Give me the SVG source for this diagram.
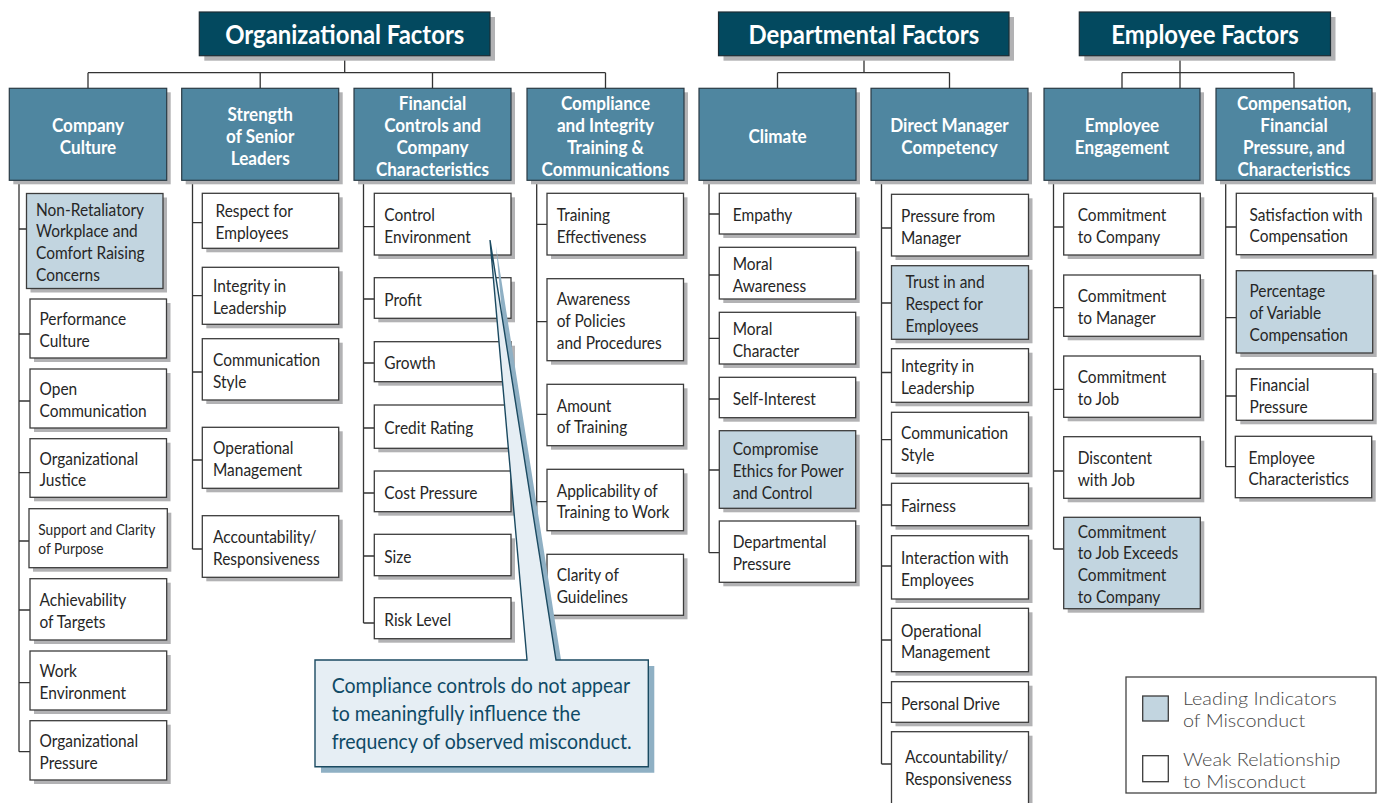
<svg xmlns="http://www.w3.org/2000/svg" width="1379" height="803" viewBox="0 0 1379 803">
  <style>
    .sh { fill: #b2b2b4; }
    .hdr { fill: #03495f; stroke: #1d2d35; stroke-width: 1.2; }
    .sub { fill: #4f86a0; stroke: #2a3a44; stroke-width: 1.2; }
    .item { fill: #ffffff; stroke: #3c3c3c; stroke-width: 1.3; }
    .lead { fill: #c2d5e0; stroke: #3c3c3c; stroke-width: 1.3; }
    .ht { font-family: Lato, "Open Sans", sans-serif; font-weight: 700; font-size: 26px; fill: #ffffff; text-anchor: middle; }
    .st { font-family: Lato, "Open Sans", sans-serif; font-weight: 700; font-size: 19px; fill: #ffffff; text-anchor: middle; }
    .it { font-family: Lato, "Open Sans", sans-serif; font-size: 18px; fill: #262626; }
    .its { font-family: Lato, "Open Sans", sans-serif; font-size: 16px; fill: #262626; }
    .ct { font-family: Lato, "Open Sans", sans-serif; font-size: 21px; fill: #0f4a66; }
    .lt { font-family: Lato, "Open Sans", sans-serif; font-weight: 300; font-size: 18px; fill: #474747; }
    .conn { fill: none; stroke: #333333; stroke-width: 1.3; }
  </style>

  <!-- tree connectors -->
  <g id="connectors" class="conn">
    <!-- Organizational Factors -->
    <path d="M344.7 55.7 V72.7 M88 72.7 H605.5 M88 72.7 V88.3 M260.2 72.7 V88.3 M432.5 72.7 V88.3 M605.5 72.7 V88.3"/>
    <!-- Departmental Factors -->
    <path d="M864 55.7 V72.7 M777.5 72.7 H949.5 M777.5 72.7 V88.3 M949.5 72.7 V88.3"/>
    <!-- Employee Factors -->
    <path d="M1180 55.7 V88.3 M1122 72.7 H1294 M1122 72.7 V88.3 M1294 72.7 V88.3"/>
    <!-- column spines and ticks -->
    <path d="M19 180.3 V751.7 M19 229 H26.5 M19 334 H30 M19 401 H30 M19 472.7 H30 M19 541 H29 M19 610 H30 M19 682.7 H30 M19 751.7 H30"/>
    <path d="M192.5 180.3 V549 M192.5 222.7 H202.3 M192.5 295.7 H202.3 M192.5 372 H202.3 M192.5 460 H202.3 M192.5 549 H202.3"/>
    <path d="M363.5 180.3 V623 M363.5 226.7 H374.3 M363.5 299 H374.3 M363.5 363 H374.3 M363.5 428 H374.3 M363.5 493 H374.3 M363.5 556 H374.3 M363.5 623 H374.3"/>
    <path d="M536.7 180.3 V585 M536.7 224.3 H547 M536.7 321.7 H547 M536.7 414.3 H547 M536.7 501.7 H547 M536.7 585 H547"/>
    <path d="M709 180.3 V552.7 M709 214 H719.3 M709 275 H719.3 M709 338.3 H719.3 M709 399 H719.3 M709 470 H719.3 M709 552.7 H719.3"/>
    <path d="M881.5 180.3 V764 M881.5 228 H891.5 M881.5 303 H891.5 M881.5 372.5 H891.5 M881.5 439.7 H891.5 M881.5 505 H891.5 M881.5 566 H891.5 M881.5 640 H891.5 M881.5 702.7 H891.5 M881.5 764 H891.5"/>
    <path d="M1053.5 180.3 V549 M1053.5 227 H1063.7 M1053.5 307.7 H1063.7 M1053.5 389.3 H1063.7 M1053.5 471 H1063.7 M1053.5 549 H1063.7"/>
    <path d="M1225.7 180.3 V466.7 M1225.7 227 H1236.3 M1225.7 317.7 H1236.3 M1225.7 396 H1236.3 M1225.7 466.7 H1235.3"/>
  </g>

  <!-- top-level factor headers -->
  <g id="organizational-factors">
    <rect class="sh" x="204.3" y="17" width="290.7" height="43.7"/>
    <rect class="hdr" x="199.3" y="12" width="290.7" height="43.7"/>
    <text class="ht" transform="translate(344.7 44) scale(.92 1)">Organizational Factors</text>
  </g>
  <g id="departmental-factors">
    <rect class="sh" x="723.5" y="17" width="290.5" height="43.7"/>
    <rect class="hdr" x="718.5" y="12" width="290.5" height="43.7"/>
    <text class="ht" transform="translate(863.8 44) scale(.92 1)">Departmental Factors</text>
  </g>
  <g id="employee-factors">
    <rect class="sh" x="1084.3" y="17" width="251.2" height="43.7"/>
    <rect class="hdr" x="1079.3" y="12" width="251.2" height="43.7"/>
    <text class="ht" transform="translate(1205 44) scale(.92 1)">Employee Factors</text>
  </g>

  <!-- category boxes -->
  <g id="company-culture">
    <rect class="sh" x="13.3" y="92.3" width="157.4" height="92"/>
    <rect class="sub" x="9.3" y="88.3" width="157.4" height="92"/>
    <text class="st" transform="translate(88 131.8) scale(.9 1)"><tspan x="0" y="0">Company</tspan><tspan x="0" y="22">Culture</tspan></text>
  </g>
  <g id="strength-of-senior-leaders">
    <rect class="sh" x="185.7" y="92.3" width="157" height="92"/>
    <rect class="sub" x="181.7" y="88.3" width="157" height="92"/>
    <text class="st" transform="translate(260.2 120.8) scale(.9 1)"><tspan x="0" y="0">Strength</tspan><tspan x="0" y="22">of Senior</tspan><tspan x="0" y="44">Leaders</tspan></text>
  </g>
  <g id="financial-controls">
    <rect class="sh" x="358" y="92.3" width="157" height="92"/>
    <rect class="sub" x="354" y="88.3" width="157" height="92"/>
    <text class="st" transform="translate(432.5 109.8) scale(.9 1)"><tspan x="0" y="0">Financial</tspan><tspan x="0" y="22">Controls and</tspan><tspan x="0" y="44">Company</tspan><tspan x="0" y="66">Characteristics</tspan></text>
  </g>
  <g id="compliance-training">
    <rect class="sh" x="531" y="92.3" width="157" height="92"/>
    <rect class="sub" x="527" y="88.3" width="157" height="92"/>
    <text class="st" transform="translate(605.5 109.8) scale(.9 1)"><tspan x="0" y="0">Compliance</tspan><tspan x="0" y="22">and Integrity</tspan><tspan x="0" y="44">Training &amp;</tspan><tspan x="0" y="66">Communications</tspan></text>
  </g>
  <g id="climate">
    <rect class="sh" x="703" y="92.3" width="157" height="92"/>
    <rect class="sub" x="699" y="88.3" width="157" height="92"/>
    <text class="st" transform="translate(777.5 142.8) scale(.9 1)">Climate</text>
  </g>
  <g id="direct-manager-competency">
    <rect class="sh" x="875" y="92.3" width="157" height="92"/>
    <rect class="sub" x="871" y="88.3" width="157" height="92"/>
    <text class="st" transform="translate(949.5 131.8) scale(.9 1)"><tspan x="0" y="0">Direct Manager</tspan><tspan x="0" y="22">Competency</tspan></text>
  </g>
  <g id="employee-engagement">
    <rect class="sh" x="1048" y="92.3" width="156" height="92"/>
    <rect class="sub" x="1044" y="88.3" width="156" height="92"/>
    <text class="st" transform="translate(1122 131.8) scale(.9 1)"><tspan x="0" y="0">Employee</tspan><tspan x="0" y="22">Engagement</tspan></text>
  </g>
  <g id="compensation">
    <rect class="sh" x="1220" y="92.3" width="156" height="92"/>
    <rect class="sub" x="1216" y="88.3" width="156" height="92"/>
    <text class="st" transform="translate(1294 109.8) scale(.9 1)"><tspan x="0" y="0">Compensation,</tspan><tspan x="0" y="22">Financial</tspan><tspan x="0" y="44">Pressure, and</tspan><tspan x="0" y="66">Characteristics</tspan></text>
  </g>

  <!-- Company Culture items -->
  <g id="cc-non-retaliatory">
    <rect class="sh" x="30.5" y="197.5" width="136.5" height="95"/>
    <rect class="lead" x="26.5" y="193.5" width="136.5" height="95"/>
    <text class="it" transform="translate(36 215.5) scale(.86 1)"><tspan x="0" y="0">Non-Retaliatory</tspan><tspan x="0" y="22">Workplace and</tspan><tspan x="0" y="44">Comfort Raising</tspan><tspan x="0" y="66">Concerns</tspan></text>
  </g>
  <g id="cc-performance-culture">
    <rect class="sh" x="34" y="303" width="136.5" height="59"/>
    <rect class="item" x="30" y="299" width="136.5" height="59"/>
    <text class="it" transform="translate(39.5 325) scale(.86 1)"><tspan x="0" y="0">Performance</tspan><tspan x="0" y="22">Culture</tspan></text>
  </g>
  <g id="cc-open-communication">
    <rect class="sh" x="34" y="373" width="136.5" height="59"/>
    <rect class="item" x="30" y="369" width="136.5" height="59"/>
    <text class="it" transform="translate(39.5 395) scale(.86 1)"><tspan x="0" y="0">Open</tspan><tspan x="0" y="22">Communication</tspan></text>
  </g>
  <g id="cc-organizational-justice">
    <rect class="sh" x="34" y="442.7" width="136.5" height="58.6"/>
    <rect class="item" x="30" y="438.7" width="136.5" height="58.6"/>
    <text class="it" transform="translate(39.5 464.5) scale(.86 1)"><tspan x="0" y="0">Organizational</tspan><tspan x="0" y="22">Justice</tspan></text>
  </g>
  <g id="cc-support-clarity">
    <rect class="sh" x="33" y="512.7" width="138.3" height="59"/>
    <rect class="item" x="29" y="508.7" width="138.3" height="59"/>
    <text class="its" transform="translate(38.3 535) scale(.86 1)"><tspan x="0" y="0">Support and Clarity</tspan><tspan x="0" y="19">of Purpose</tspan></text>
  </g>
  <g id="cc-achievability">
    <rect class="sh" x="34" y="582.7" width="136.7" height="61.3"/>
    <rect class="item" x="30" y="578.7" width="136.7" height="61.3"/>
    <text class="it" transform="translate(39.5 605.8) scale(.86 1)"><tspan x="0" y="0">Achievability</tspan><tspan x="0" y="22">of Targets</tspan></text>
  </g>
  <g id="cc-work-environment">
    <rect class="sh" x="34" y="655" width="136.7" height="59"/>
    <rect class="item" x="30" y="651" width="136.7" height="59"/>
    <text class="it" transform="translate(39.5 677) scale(.86 1)"><tspan x="0" y="0">Work</tspan><tspan x="0" y="22">Environment</tspan></text>
  </g>
  <g id="cc-organizational-pressure">
    <rect class="sh" x="34" y="724.7" width="136.7" height="59.3"/>
    <rect class="item" x="30" y="720.7" width="136.7" height="59.3"/>
    <text class="it" transform="translate(39.5 746.8) scale(.86 1)"><tspan x="0" y="0">Organizational</tspan><tspan x="0" y="22">Pressure</tspan></text>
  </g>

  <!-- Strength of Senior Leaders items -->
  <g id="sl-respect">
    <rect class="sh" x="206.3" y="197.3" width="136.4" height="55"/>
    <rect class="item" x="202.3" y="193.3" width="136.4" height="55"/>
    <text class="it" transform="translate(215.5 217.3) scale(.86 1)"><tspan x="0" y="0">Respect for</tspan><tspan x="0" y="22">Employees</tspan></text>
  </g>
  <g id="sl-integrity">
    <rect class="sh" x="206.3" y="271.3" width="136.4" height="57"/>
    <rect class="item" x="202.3" y="267.3" width="136.4" height="57"/>
    <text class="it" transform="translate(213 292.3) scale(.86 1)"><tspan x="0" y="0">Integrity in</tspan><tspan x="0" y="22">Leadership</tspan></text>
  </g>
  <g id="sl-communication-style">
    <rect class="sh" x="206.3" y="342.7" width="136.4" height="61.3"/>
    <rect class="item" x="202.3" y="338.7" width="136.4" height="61.3"/>
    <text class="it" transform="translate(213 365.8) scale(.86 1)"><tspan x="0" y="0">Communication</tspan><tspan x="0" y="22">Style</tspan></text>
  </g>
  <g id="sl-operational-management">
    <rect class="sh" x="206.3" y="431.3" width="136.4" height="61"/>
    <rect class="item" x="202.3" y="427.3" width="136.4" height="61"/>
    <text class="it" transform="translate(213 454.3) scale(.86 1)"><tspan x="0" y="0">Operational</tspan><tspan x="0" y="22">Management</tspan></text>
  </g>
  <g id="sl-accountability">
    <rect class="sh" x="206.3" y="519.7" width="136.4" height="61.6"/>
    <rect class="item" x="202.3" y="515.7" width="136.4" height="61.6"/>
    <text class="it" transform="translate(213 543) scale(.86 1)"><tspan x="0" y="0">Accountability/</tspan><tspan x="0" y="22">Responsiveness</tspan></text>
  </g>

  <!-- Financial Controls and Company Characteristics items -->
  <g id="fc-control-environment">
    <rect class="sh" x="378.3" y="197.3" width="136.7" height="61.7"/>
    <rect class="item" x="374.3" y="193.3" width="136.7" height="61.7"/>
    <text class="it" transform="translate(384.3 220.7) scale(.86 1)"><tspan x="0" y="0">Control</tspan><tspan x="0" y="22">Environment</tspan></text>
  </g>
  <g id="fc-profit">
    <rect class="sh" x="378.3" y="281.7" width="136.7" height="40.6"/>
    <rect class="item" x="374.3" y="277.7" width="136.7" height="40.6"/>
    <text class="it" transform="translate(384.3 305.5) scale(.86 1)">Profit</text>
  </g>
  <g id="fc-growth">
    <rect class="sh" x="378.3" y="345.7" width="136.7" height="40"/>
    <rect class="item" x="374.3" y="341.7" width="136.7" height="40"/>
    <text class="it" transform="translate(384.3 369.2) scale(.86 1)">Growth</text>
  </g>
  <g id="fc-credit-rating">
    <rect class="sh" x="378.3" y="409" width="136.7" height="43.3"/>
    <rect class="item" x="374.3" y="405" width="136.7" height="43.3"/>
    <text class="it" transform="translate(384.3 434.2) scale(.86 1)">Credit Rating</text>
  </g>
  <g id="fc-cost-pressure">
    <rect class="sh" x="378.3" y="475" width="136.7" height="40.7"/>
    <rect class="item" x="374.3" y="471" width="136.7" height="40.7"/>
    <text class="it" transform="translate(384.3 498.8) scale(.86 1)">Cost Pressure</text>
  </g>
  <g id="fc-size">
    <rect class="sh" x="378.3" y="538.3" width="136.7" height="41.4"/>
    <rect class="item" x="374.3" y="534.3" width="136.7" height="41.4"/>
    <text class="it" transform="translate(384.3 562.5) scale(.86 1)">Size</text>
  </g>
  <g id="fc-risk-level">
    <rect class="sh" x="378.3" y="601.7" width="136.7" height="41"/>
    <rect class="item" x="374.3" y="597.7" width="136.7" height="41"/>
    <text class="it" transform="translate(384.3 625.7) scale(.86 1)">Risk Level</text>
  </g>

  <!-- Compliance and Integrity Training items -->
  <g id="ct-training-effectiveness">
    <rect class="sh" x="551" y="197.3" width="136.5" height="61.7"/>
    <rect class="item" x="547" y="193.3" width="136.5" height="61.7"/>
    <text class="it" transform="translate(556.7 220.7) scale(.86 1)"><tspan x="0" y="0">Training</tspan><tspan x="0" y="22">Effectiveness</tspan></text>
  </g>
  <g id="ct-awareness">
    <rect class="sh" x="551" y="282.7" width="136.5" height="82"/>
    <rect class="item" x="547" y="278.7" width="136.5" height="82"/>
    <text class="it" transform="translate(556.7 305.2) scale(.86 1)"><tspan x="0" y="0">Awareness</tspan><tspan x="0" y="22">of Policies</tspan><tspan x="0" y="44">and Procedures</tspan></text>
  </g>
  <g id="ct-amount">
    <rect class="sh" x="551" y="388.3" width="136.5" height="61.4"/>
    <rect class="item" x="547" y="384.3" width="136.5" height="61.4"/>
    <text class="it" transform="translate(556.7 411.5) scale(.86 1)"><tspan x="0" y="0">Amount</tspan><tspan x="0" y="22">of Training</tspan></text>
  </g>
  <g id="ct-applicability">
    <rect class="sh" x="551" y="473.3" width="136.5" height="61.4"/>
    <rect class="item" x="547" y="469.3" width="136.5" height="61.4"/>
    <text class="it" transform="translate(556.7 496.5) scale(.86 1)"><tspan x="0" y="0">Applicability of</tspan><tspan x="0" y="22">Training to Work</tspan></text>
  </g>
  <g id="ct-clarity">
    <rect class="sh" x="551" y="558.3" width="136.5" height="61"/>
    <rect class="item" x="547" y="554.3" width="136.5" height="61"/>
    <text class="it" transform="translate(556.7 581.3) scale(.86 1)"><tspan x="0" y="0">Clarity of</tspan><tspan x="0" y="22">Guidelines</tspan></text>
  </g>

  <!-- Climate items -->
  <g id="cl-empathy">
    <rect class="sh" x="723.3" y="197.3" width="136.4" height="40.7"/>
    <rect class="item" x="719.3" y="193.3" width="136.4" height="40.7"/>
    <text class="it" transform="translate(732.7 221.2) scale(.86 1)">Empathy</text>
  </g>
  <g id="cl-moral-awareness">
    <rect class="sh" x="723.3" y="251.3" width="136.4" height="51.7"/>
    <rect class="item" x="719.3" y="247.3" width="136.4" height="51.7"/>
    <text class="it" transform="translate(732.7 269.7) scale(.86 1)"><tspan x="0" y="0">Moral</tspan><tspan x="0" y="22">Awareness</tspan></text>
  </g>
  <g id="cl-moral-character">
    <rect class="sh" x="723.3" y="316.3" width="136.4" height="51.7"/>
    <rect class="item" x="719.3" y="312.3" width="136.4" height="51.7"/>
    <text class="it" transform="translate(732.7 334.7) scale(.86 1)"><tspan x="0" y="0">Moral</tspan><tspan x="0" y="22">Character</tspan></text>
  </g>
  <g id="cl-self-interest">
    <rect class="sh" x="723.3" y="381.3" width="136.4" height="40.4"/>
    <rect class="item" x="719.3" y="377.3" width="136.4" height="40.4"/>
    <text class="it" transform="translate(732.7 405) scale(.86 1)">Self-Interest</text>
  </g>
  <g id="cl-compromise-ethics">
    <rect class="sh" x="723.3" y="434.7" width="136.4" height="77.6"/>
    <rect class="lead" x="719.3" y="430.7" width="136.4" height="77.6"/>
    <text class="it" transform="translate(732.7 455) scale(.86 1)"><tspan x="0" y="0">Compromise</tspan><tspan x="0" y="22">Ethics for Power</tspan><tspan x="0" y="44">and Control</tspan></text>
  </g>
  <g id="cl-departmental-pressure">
    <rect class="sh" x="723.3" y="525" width="136.4" height="61.3"/>
    <rect class="item" x="719.3" y="521" width="136.4" height="61.3"/>
    <text class="it" transform="translate(732.7 548.2) scale(.86 1)"><tspan x="0" y="0">Departmental</tspan><tspan x="0" y="22">Pressure</tspan></text>
  </g>

  <!-- Direct Manager Competency items -->
  <g id="dm-pressure">
    <rect class="sh" x="895.5" y="198.3" width="137" height="61.7"/>
    <rect class="item" x="891.5" y="194.3" width="137" height="61.7"/>
    <text class="it" transform="translate(901 221.7) scale(.86 1)"><tspan x="0" y="0">Pressure from</tspan><tspan x="0" y="22">Manager</tspan></text>
  </g>
  <g id="dm-trust-respect">
    <rect class="sh" x="895.5" y="269.7" width="137" height="73.6"/>
    <rect class="lead" x="891.5" y="265.7" width="137" height="73.6"/>
    <text class="it" transform="translate(905.5 288) scale(.86 1)"><tspan x="0" y="0">Trust in and</tspan><tspan x="0" y="22">Respect for</tspan><tspan x="0" y="44">Employees</tspan></text>
  </g>
  <g id="dm-integrity">
    <rect class="sh" x="895.5" y="352.7" width="137" height="53.6"/>
    <rect class="item" x="891.5" y="348.7" width="137" height="53.6"/>
    <text class="it" transform="translate(901 372) scale(.86 1)"><tspan x="0" y="0">Integrity in</tspan><tspan x="0" y="22">Leadership</tspan></text>
  </g>
  <g id="dm-communication-style">
    <rect class="sh" x="895.5" y="416.3" width="137" height="61"/>
    <rect class="item" x="891.5" y="412.3" width="137" height="61"/>
    <text class="it" transform="translate(901 439.3) scale(.86 1)"><tspan x="0" y="0">Communication</tspan><tspan x="0" y="22">Style</tspan></text>
  </g>
  <g id="dm-fairness">
    <rect class="sh" x="895.5" y="487.3" width="137" height="42.4"/>
    <rect class="item" x="891.5" y="483.3" width="137" height="42.4"/>
    <text class="it" transform="translate(901 512) scale(.86 1)">Fairness</text>
  </g>
  <g id="dm-interaction">
    <rect class="sh" x="895.5" y="539.7" width="137" height="63.3"/>
    <rect class="item" x="891.5" y="535.7" width="137" height="63.3"/>
    <text class="it" transform="translate(901 563.8) scale(.86 1)"><tspan x="0" y="0">Interaction with</tspan><tspan x="0" y="22">Employees</tspan></text>
  </g>
  <g id="dm-operational-management">
    <rect class="sh" x="895.5" y="612.3" width="137" height="63.4"/>
    <rect class="item" x="891.5" y="608.3" width="137" height="63.4"/>
    <text class="it" transform="translate(901 636.5) scale(.86 1)"><tspan x="0" y="0">Operational</tspan><tspan x="0" y="22">Management</tspan></text>
  </g>
  <g id="dm-personal-drive">
    <rect class="sh" x="895.5" y="685.7" width="137" height="40.6"/>
    <rect class="item" x="891.5" y="681.7" width="137" height="40.6"/>
    <text class="it" transform="translate(901 709.5) scale(.86 1)">Personal Drive</text>
  </g>
  <g id="dm-accountability">
    <rect class="sh" x="895.5" y="735.7" width="137" height="80"/>
    <rect class="item" x="891.5" y="731.7" width="137" height="80"/>
    <text class="it" transform="translate(905 763) scale(.86 1)"><tspan x="0" y="0">Accountability/</tspan><tspan x="0" y="22">Responsiveness</tspan></text>
  </g>

  <!-- Employee Engagement items -->
  <g id="ee-commitment-company">
    <rect class="sh" x="1067.7" y="197.3" width="136.6" height="61.7"/>
    <rect class="item" x="1063.7" y="193.3" width="136.6" height="61.7"/>
    <text class="it" transform="translate(1077.7 220.7) scale(.86 1)"><tspan x="0" y="0">Commitment</tspan><tspan x="0" y="22">to Company</tspan></text>
  </g>
  <g id="ee-commitment-manager">
    <rect class="sh" x="1067.7" y="279" width="136.6" height="61.3"/>
    <rect class="item" x="1063.7" y="275" width="136.6" height="61.3"/>
    <text class="it" transform="translate(1077.7 302.2) scale(.86 1)"><tspan x="0" y="0">Commitment</tspan><tspan x="0" y="22">to Manager</tspan></text>
  </g>
  <g id="ee-commitment-job">
    <rect class="sh" x="1067.7" y="360" width="136.6" height="61.3"/>
    <rect class="item" x="1063.7" y="356" width="136.6" height="61.3"/>
    <text class="it" transform="translate(1077.7 383.2) scale(.86 1)"><tspan x="0" y="0">Commitment</tspan><tspan x="0" y="22">to Job</tspan></text>
  </g>
  <g id="ee-discontent">
    <rect class="sh" x="1067.7" y="440.7" width="136.6" height="61.6"/>
    <rect class="item" x="1063.7" y="436.7" width="136.6" height="61.6"/>
    <text class="it" transform="translate(1077.7 464) scale(.86 1)"><tspan x="0" y="0">Discontent</tspan><tspan x="0" y="22">with Job</tspan></text>
  </g>
  <g id="ee-job-exceeds-company">
    <rect class="sh" x="1067.7" y="521.3" width="136.6" height="91.4"/>
    <rect class="lead" x="1063.7" y="517.3" width="136.6" height="91.4"/>
    <text class="it" transform="translate(1077.7 537.5) scale(.86 1)"><tspan x="0" y="0">Commitment</tspan><tspan x="0" y="22">to Job Exceeds</tspan><tspan x="0" y="44">Commitment</tspan><tspan x="0" y="66">to Company</tspan></text>
  </g>

  <!-- Compensation, Financial Pressure, and Characteristics items -->
  <g id="cp-satisfaction">
    <rect class="sh" x="1240.3" y="197.3" width="136.4" height="61.4"/>
    <rect class="item" x="1236.3" y="193.3" width="136.4" height="61.4"/>
    <text class="it" transform="translate(1249.5 220.5) scale(.86 1)"><tspan x="0" y="0">Satisfaction with</tspan><tspan x="0" y="22">Compensation</tspan></text>
  </g>
  <g id="cp-variable-compensation">
    <rect class="sh" x="1240.3" y="274.7" width="136.4" height="82.3"/>
    <rect class="lead" x="1236.3" y="270.7" width="136.4" height="82.3"/>
    <text class="it" transform="translate(1249.5 297.3) scale(.86 1)"><tspan x="0" y="0">Percentage</tspan><tspan x="0" y="22">of Variable</tspan><tspan x="0" y="44">Compensation</tspan></text>
  </g>
  <g id="cp-financial-pressure">
    <rect class="sh" x="1240.3" y="373" width="136.4" height="51.3"/>
    <rect class="item" x="1236.3" y="369" width="136.4" height="51.3"/>
    <text class="it" transform="translate(1249.5 391.2) scale(.86 1)"><tspan x="0" y="0">Financial</tspan><tspan x="0" y="22">Pressure</tspan></text>
  </g>
  <g id="cp-employee-characteristics">
    <rect class="sh" x="1239.3" y="440.3" width="136.4" height="61.4"/>
    <rect class="item" x="1235.3" y="436.3" width="136.4" height="61.4"/>
    <text class="it" transform="translate(1248.5 463.5) scale(.86 1)"><tspan x="0" y="0">Employee</tspan><tspan x="0" y="22">Characteristics</tspan></text>
  </g>

  <!-- callout on compliance controls, pointing at Control Environment -->
  <g id="callout">
    <path d="M315 660 H527 L490 240 L556 660 H648.3 V766.7 H315 Z" transform="translate(6 6)" fill="#8fb0c4"/>
    <path d="M315 660 H527 L490 240 L556 660 H648.3 V766.7 H315 Z" fill="#e6eef4" stroke="#1b4a61" stroke-width="1.4" stroke-linejoin="miter"/>
    <text class="ct" transform="translate(331.7 693) scale(.93 1)"><tspan x="0" y="0">Compliance controls do not appear</tspan><tspan x="0" y="28">to meaningfully influence the</tspan><tspan x="0" y="56">frequency of observed misconduct.</tspan></text>
  </g>

  <!-- legend -->
  <g id="legend">
    <rect x="1126" y="677" width="250" height="116" fill="#ffffff" stroke="#444444" stroke-width="1.3"/>
    <rect class="lead" x="1142.7" y="696" width="25.6" height="25"/>
    <rect class="item" x="1142.7" y="755.7" width="25.6" height="26"/>
    <text class="lt" transform="translate(1183 705) scale(1.1 1)"><tspan x="0" y="0">Leading Indicators</tspan><tspan x="0" y="22">of Misconduct</tspan></text>
    <text class="lt" transform="translate(1183 766) scale(1.1 1)"><tspan x="0" y="0">Weak Relationship</tspan><tspan x="0" y="22">to Misconduct</tspan></text>
  </g>
</svg>
